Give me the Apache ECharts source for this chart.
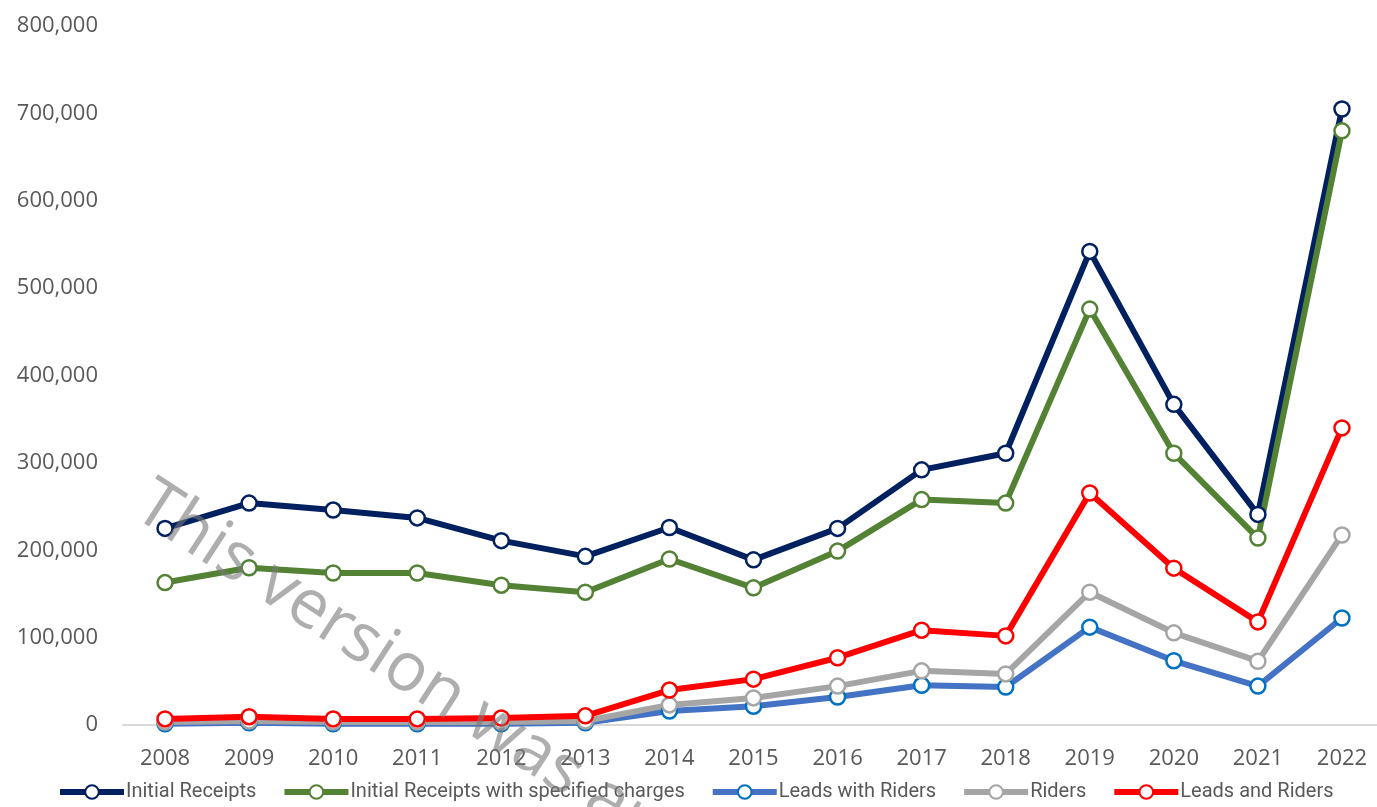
<!DOCTYPE html>
<html>
<head>
<meta charset="utf-8">
<script src="https://cdn.jsdelivr.net/npm/echarts@6/dist/echarts.min.js"></script>
<style>
    html, body { margin: 0; padding: 0; background: #fff; }
    #chart { width: 1377px; height: 807px; }
</style>
</head>
<body>
<div id="chart"></div>
<script>
// 年份
const years = ['2008', '2009', '2010', '2011', '2012', '2013', '2014', '2015',
    '2016', '2017', '2018', '2019', '2020', '2021', '2022'];

// 各系列数据
const initialReceipts = [225000, 254000, 246000, 237000, 211000, 193000, 226000, 189000,
    225000, 292000, 311000, 542000, 367000, 241000, 705000];
const initialSpecified = [163000, 180000, 174000, 174000, 160000, 152000, 190000, 157000,
    199000, 258000, 254000, 476000, 311000, 214000, 680000];
const leadsWithRiders = [1500, 2500, 1500, 1500, 1500, 2500, 16000, 21500,
    32000, 45500, 43500, 112000, 73500, 44500, 122500];
const riders = [3500, 4500, 3500, 3500, 3500, 4500, 23000, 31000,
    44500, 62000, 58500, 152000, 105500, 73000, 217500];
const leadsAndRiders = [7000, 9500, 7000, 7000, 8000, 10500, 40000, 52500,
    77000, 108500, 102000, 265500, 179500, 118000, 340000];

const seriesNames = ['Initial Receipts', 'Initial Receipts with specified charges',
    'Leads with Riders', 'Riders', 'Leads and Riders'];

const labelColor = '#595959';
const tickFont = '"Open Sans", sans-serif';

// 生成折线系列
function makeLine(name, data, lineColor, markerColor, width) {
    return {
        name: name,
        type: 'line',
        data: data,
        symbol: 'circle',
        symbolSize: 15,
        showSymbol: true,
        lineStyle: { color: lineColor, width: width },
        itemStyle: { color: '#fff', borderColor: markerColor, borderWidth: 2.5 },
        emphasis: { disabled: true },
        z: 2
    };
}

const chart = echarts.init(document.getElementById('chart'));
chart.setOption({
    animation: false,
    grid: { left: 123, top: 26, right: -7, bottom: 82, outerBoundsMode: 'none' },
    legend: {
        bottom: 0,
        left: 52,
        itemWidth: 64,
        itemHeight: 17,
        itemGap: 25,
        lineStyle: { width: 6 },
        textStyle: { color: labelColor, fontSize: 20, fontFamily: 'Roboto, sans-serif', padding: [0, 0, 0, -3] },
        data: seriesNames
    },
    xAxis: {
        type: 'category',
        data: years,
        boundaryGap: true,
        axisLine: { lineStyle: { color: '#D9D9D9', width: 2 } },
        axisTick: { show: false },
        axisLabel: { color: labelColor, fontSize: 22, margin: 23, fontFamily: tickFont }
    },
    yAxis: {
        type: 'value',
        min: 0,
        max: 800000,
        interval: 100000,
        splitLine: { show: false },
        axisLine: { show: false },
        axisLabel: {
            color: labelColor,
            fontSize: 22,
            margin: 25,
            fontFamily: tickFont,
            formatter: v => v.toLocaleString('en-US')
        }
    },
    series: [
        makeLine(seriesNames[0], initialReceipts, '#002060', '#002060', 6),
        makeLine(seriesNames[1], initialSpecified, '#548235', '#548235', 6),
        makeLine(seriesNames[2], leadsWithRiders, '#4472C4', '#0070C0', 6),
        makeLine(seriesNames[3], riders, '#A5A5A5', '#A5A5A5', 6),
        makeLine(seriesNames[4], leadsAndRiders, '#FF0000', '#FF0000', 6)
    ],
    graphic: [{
        type: 'text',
        x: 160,
        y: 470,
        rotation: -33 * Math.PI / 180,
        z: 100,
        style: {
            text: 'This version was archived',
            fontSize: 68,
            fontFamily: tickFont,
            fill: 'rgba(120,120,120,0.6)',
            textVerticalAlign: 'top'
        }
    }]
});
</script>
</body>
</html>
